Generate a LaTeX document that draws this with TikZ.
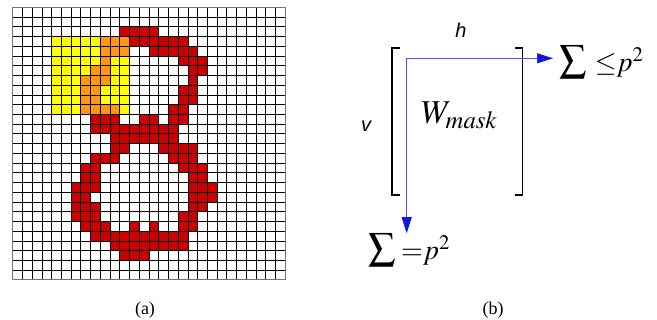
\documentclass[tikz,border=0pt]{standalone}
\usepackage{mathptmx}
\usepackage{fontspec}
\setmainfont{Liberation Serif}
\newfontfamily\axisfont{Liberation Sans}
\usetikzlibrary{arrows.meta,positioning}
\definecolor{digitRed}{RGB}{204,0,0}
\definecolor{maskYellow}{RGB}{255,255,0}
\definecolor{overlapOrange}{RGB}{255,150,20}
\definecolor{arrowBlue}{RGB}{20,20,225}
\definecolor{lineBlue}{RGB}{80,80,250}
\newcommand{\bigSum}{{\fontsize{29}{30}\selectfont$\sum$}}
\tikzset{
  gridLine/.style={black,line width=.55pt},
  gridBorder/.style={black!55,line width=.9pt},
  bracketLine/.style={black,line width=.8pt},
  flowArrow/.style={lineBlue,line width=.55pt,-{Triangle[length=12pt,width=7.5pt,color=arrowBlue]}},
  axisLabel/.style={font=\axisfont\itshape\fontsize{15}{17}\selectfont,inner sep=1pt},
  sumLabel/.style={font=\fontsize{21}{24}\selectfont,inner sep=0pt},
  caption/.style={font=\fontsize{13.5}{15}\selectfont,inner sep=1pt}
}
\begin{document}
\begin{tikzpicture}[x=.75pt,y=-.75pt]
\useasboundingbox (0,0) rectangle (657,320);
% (a) 28x28 digit with the mask window
\begin{scope}[shift={(12.7,7.3)},x=7.3pt,y=-7.3pt]
\fill[maskYellow] (4,3) rectangle (12,11);
\foreach \r/\cl in {2/{11,...,14},3/{9,...,17},4/{9,10,11,14,15,16,17,18},5/{9,17,18,19},
  6/{8,9,18,19},7/{7,8,9,18},8/{7,8,17,18},9/{7,8,17,18},10/{7,8,9,10,16,17},
  11/{8,9,10,13,14,16,17},12/{8,...,16},13/{10,...,16},14/{10,11,15,16,17,18},
  15/{8,9,10,16,17,18},16/{7,8,17,18,19},17/{7,8,18,19},18/{6,7,8,18,19,20},
  19/{6,7,18,19,20},20/{6,7,8,18,19},21/{6,7,8,17,18},22/{7,8,9,12,14,17,18},
  23/{8,...,17},24/{10,...,17},25/{11,12,13}}
  \foreach \c in \cl {
    \pgfmathtruncatemacro\inmask{(\c>3)&&(\c<12)&&(\r>2)&&(\r<11)}
    \ifnum\inmask=1 \def\cellcol{overlapOrange}\else\def\cellcol{digitRed}\fi
    \fill[\cellcol] (\c,\r) rectangle ++(1,1);
  }
\foreach \i in {1,...,27} {
  \draw[gridLine] (\i,0) -- (\i,28);
  \draw[gridLine] (0,\i) -- (28,\i);
}
\draw[gridBorder] (0,0) rectangle (28,28);
\end{scope}
\node[caption] (capA) at (145,310) {(a)};
% (b) sums over the mask
\draw[bracketLine] (400,48) -- (392,48) -- (392,195) -- (400,195);
\draw[bracketLine] (515,48) -- (522.7,48) -- (522.7,195) -- (515,195);
\node[font=\fontsize{25}{28}\selectfont,inner sep=0pt,anchor=base west] (wMask) at (421,123.3) {$W_{mask}$};
\node[axisLabel] (h) at (461,30) {h};
\node[axisLabel] (v) at (366,126) {v};
\coordinate (origin) at (406.7,58.3);
\node[sumLabel,anchor=west] (sumRow) at (559,62) {\bigSum\hspace{6pt}$\mathord{\leq}p^{2}$};
\node[sumLabel,anchor=west] (sumCol) at (368,250) {\bigSum\hspace{4pt}$\mathord{=}p^{2}$};
\draw[flowArrow,shorten >=4.5pt] (origin) -- (origin -| sumRow.west);
\draw[flowArrow] (origin) -- (origin |- sumCol.north);
\node[caption] (capB) at (493,310) {(b)};
\end{tikzpicture}
\end{document}
